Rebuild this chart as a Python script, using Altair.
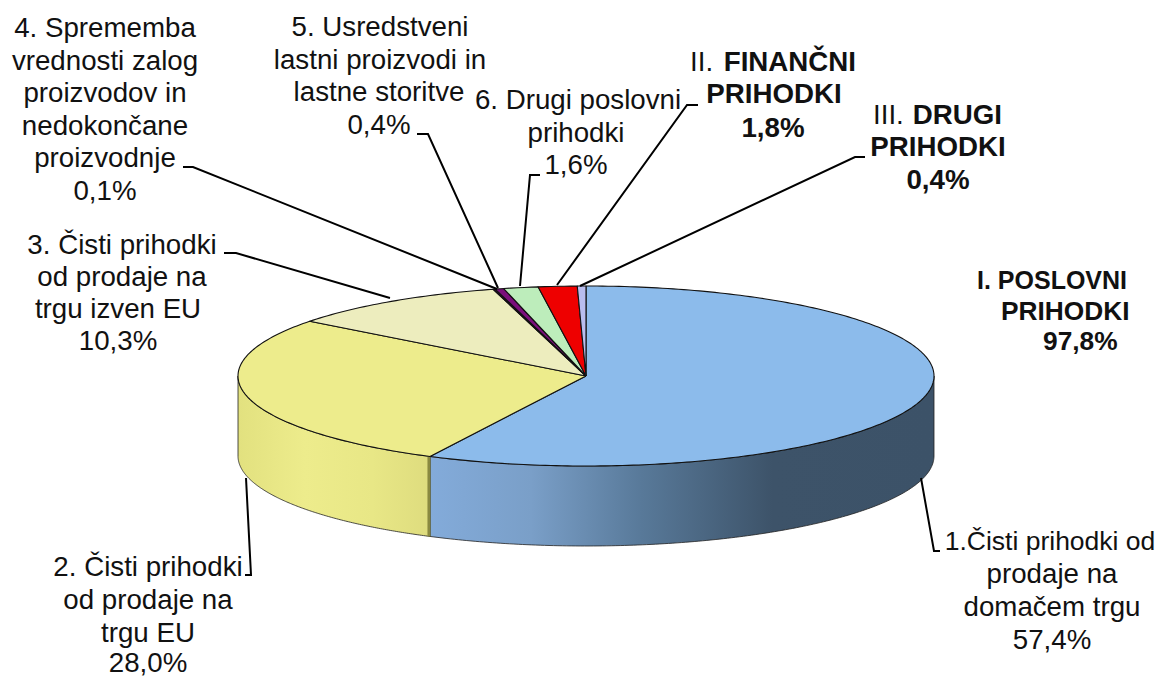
import numpy as np
import pandas as pd
import altair as alt

# Slice values (percent), clockwise from 12 o'clock
slice_names = ["Domači trg", "Trg EU", "Izven EU", "Zaloge", "Lastni proizvodi", "Drugi poslovni", "Finančni", "Drugi"]
slice_values = [57.4, 28.0, 10.3, 0.1, 0.4, 1.6, 1.8, 0.4]
slice_colors = ["#8CBBEB", "#EDEC8C", "#EDEDBE", "#3D0A3D", "#7B0F7B", "#BDEDBB", "#EE0000", "#B9BDEE"]

# Tilted pie geometry, in picture pixels
CX, CY, RX, RY, DEPTH = 586, 376, 348, 90, 80
W, H = 1149, 669
x_scale = alt.Scale(domain=[8, 8 + W], range=[0, W], nice=False, zero=False)
y_scale = alt.Scale(domain=[8, 8 + H], range=[0, H], nice=False, zero=False)
X = lambda f="x": alt.X(f"{f}:Q", scale=x_scale, axis=None)
Y = lambda f="y": alt.Y(f"{f}:Q", scale=y_scale, axis=None)

def ex(t):
    return CX + RX * np.sin(t)

def ey(t):
    return CY - RY * np.cos(t)

bounds = np.cumsum([0] + slice_values) / 100 * 2 * np.pi

layers = []

def grad(stops):
    return alt.LinearGradient(
        gradient="linear", x1=0, x2=1, y1=0, y2=0,
        stops=[alt.GradientStop(offset=o, color=c) for o, c in stops],
    )

# Side walls: only the part of the rim facing the viewer
wall_fills = [
    grad([(0, "#83ABDA"), (0.2, "#7A9FC8"), (0.42, "#587999"), (0.68, "#3D5369"), (1, "#3C5268")]),
    grad([(0, "#E2E17F"), (0.35, "#EDEC8C"), (0.7, "#E8E786"), (1, "#DEDC7E")]),
]
wall_spans = [(np.pi / 2, bounds[1]), (bounds[1], 1.5 * np.pi)]
for (a, b), fill in zip(wall_spans, wall_fills):
    t = np.linspace(a, b, 160)
    d = pd.DataFrame({"x": ex(t), "y": ey(t), "y2": ey(t) + DEPTH})
    layers.append(
        alt.Chart(d).mark_area(color=fill, stroke="#222222", strokeWidth=0.8)
        .encode(x=X(), y=Y(), y2="y2:Q")
    )

# Cut face where the blue and yellow walls meet
cut_x = float(ex(bounds[1]))
cut_y = float(ey(bounds[1]))
layers.append(
    alt.Chart(pd.DataFrame({"x": [cut_x - 1], "y": [cut_y], "y2": [cut_y + DEPTH]}))
    .mark_rule(color="#8A8940", strokeWidth=3)
    .encode(x=X(), y=Y(), y2="y2:Q")
)

# Top surface sectors
for name, a, b, col in zip(slice_names, bounds[:-1], bounds[1:], slice_colors):
    n = max(4, int((b - a) / (2 * np.pi) * 400))
    t = np.linspace(a, b, n)
    xs = np.concatenate([[CX], ex(t), [CX]])
    ys = np.concatenate([[CY], ey(t), [CY]])
    d = pd.DataFrame({"x": xs, "y": ys, "o": np.arange(len(xs))})
    layers.append(
        alt.Chart(d).mark_line(fill=col, stroke="#111111", strokeWidth=1.1, strokeJoin="round")
        .encode(x=X(), y=Y(), order="o:Q")
    )

# Leader lines (picture pixels)
leaders = {
    "4": [(183, 167), (193, 167), (497, 289)],
    "5": [(417, 134), (428, 134), (498, 288)],
    "6": [(540, 175), (530, 175), (520, 286)],
    "II": [(698, 105), (687, 105), (557, 285)],
    "III": [(865, 157), (855, 157), (580, 286)],
    "3": [(224, 253), (236, 253), (390, 298)],
    "2": [(246, 478), (251, 575), (245, 575)],
    "1": [(921, 478), (934, 551), (940, 551)],
}
rows = [
    {"k": k, "o": i, "x": p[0], "y": p[1]}
    for k, pts in leaders.items() for i, p in enumerate(pts)
]
layers.append(
    alt.Chart(pd.DataFrame(rows)).mark_line(color="#000000", strokeWidth=2)
    .encode(x=X(), y=Y(), detail="k:N", order="o:Q")
)

# Labels: text, x, y, align, weight, font size
labels = [
    ("4. Sprememba", 105, 29, "center", "normal", 27.7),
    ("vrednosti zalog", 105, 62, "center", "normal", 27.7),
    ("proizvodov in", 105, 94, "center", "normal", 27.7),
    ("nedokončane", 105, 127, "center", "normal", 27.7),
    ("proizvodnje", 105, 159, "center", "normal", 27.7),
    ("0,1%", 105, 192, "center", "normal", 27.7),
    ("5. Usredstveni", 380, 28, "center", "normal", 27.7),
    ("lastni proizvodi in", 380, 61, "center", "normal", 27.7),
    ("lastne storitve", 379, 93, "center", "normal", 27.7),
    ("0,4%", 379, 126, "center", "normal", 27.7),
    ("6. Drugi poslovni", 578, 101, "center", "normal", 27.7),
    ("prihodki", 576, 134, "center", "normal", 27.7),
    ("1,6%", 576, 166, "center", "normal", 27.7),
    ("II. ", 690, 63, "left", "normal", 27.7),
    ("FINANČNI", 856, 63, "right", "bold", 27.7),
    ("PRIHODKI", 774, 95, "center", "bold", 27.7),
    ("1,8%", 773, 129, "center", "bold", 27.7),
    ("III. ", 873, 116, "left", "normal", 27.7),
    ("DRUGI", 1002, 116, "right", "bold", 27.7),
    ("PRIHODKI", 938, 148, "center", "bold", 27.7),
    ("0,4%", 938, 181, "center", "bold", 27.7),
    ("I. POSLOVNI", 977, 281, "left", "bold", 25),
    ("PRIHODKI", 1001, 312, "left", "bold", 26.3),
    ("97,8%", 1043, 342, "left", "bold", 26.3),
    ("3. Čisti prihodki", 122, 246, "center", "normal", 27.7),
    ("od prodaje na", 122, 278, "center", "normal", 27.7),
    ("trgu izven EU", 118, 310, "center", "normal", 27.7),
    ("10,3%", 118, 342, "center", "normal", 27.7),
    ("2. Čisti prihodki", 148, 568, "center", "normal", 27.7),
    ("od prodaje na", 148, 601, "center", "normal", 27.7),
    ("trgu EU", 148, 634, "center", "normal", 27.7),
    ("28,0%", 148, 664, "center", "normal", 27.7),
    ("1.Čisti prihodki od", 1050, 542, "center", "normal", 26.5),
    ("prodaje na", 1052, 575, "center", "normal", 27.7),
    ("domačem trgu", 1052, 608, "center", "normal", 27.7),
    ("57,4%", 1052, 641, "center", "normal", 27.7),
]
ldf = pd.DataFrame(labels, columns=["t", "x", "y", "a", "w", "s"])
for (a, w, s), g in ldf.groupby(["a", "w", "s"]):
    layers.append(
        alt.Chart(g).mark_text(align=a, baseline="middle", fontWeight=w, font="Liberation Sans",
                               fontSize=s, color="#111111")
        .encode(x=X(), y=Y(), text="t:N")
    )

chart = alt.layer(*layers).properties(
    width=W, height=H, padding=0, autosize=alt.AutoSizeParams(type="none"), background="white"
).configure_view(stroke=None)

chart.save("out.html", embed_options={"renderer": "svg", "actions": False})
